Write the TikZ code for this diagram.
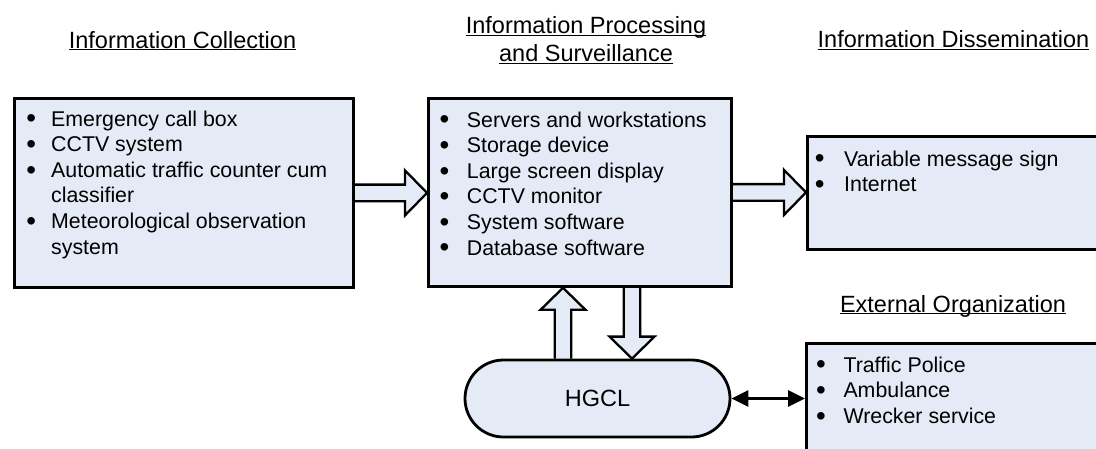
\documentclass[tikz,border=0pt]{standalone}
\usepackage{fontspec}
\usepackage{graphicx}
\setmainfont{Liberation Sans}
\usetikzlibrary{calc,arrows.meta,shapes.misc,backgrounds}
\definecolor{boxfill}{RGB}{228,234,246}
\newlength\bw
\newcommand\B{\makebox[\bw][l]{\raisebox{-1.8pt}{\scalebox{1.3}{\textbullet}}}}
\newcommand\blockarrow[3]{%
  \coordinate (#3) at ($(#2)!22pt!(#1)$);
  \filldraw[barrow] ($(#1)!8.3pt!90:(#2)$) -- ($(#3)!8.3pt!90:(#2)$) -- ($(#3)!22.5pt!90:(#2)$) -- (#2) -- ($(#3)!22.5pt!-90:(#2)$) -- ($(#3)!8.3pt!-90:(#2)$) -- ($(#1)!8.3pt!-90:(#2)$);
}
\tikzset{
  box/.style={draw, line width=2.8pt, fill=boxfill, inner sep=0pt, anchor=north west},
  barrow/.style={draw=black, line width=2.3pt, fill=boxfill, line join=miter},
  title/.style={inner sep=0pt, anchor=base, font=\fontsize{23.5}{28.3}\selectfont},
  list/.style={inner sep=0pt, anchor=base west, font=\fontsize{21.35}{25.6}\selectfont},
  hgcl/.style={draw, line width=2.8pt, fill=boxfill, rounded rectangle, minimum width=265pt, minimum height=77pt, inner sep=0pt, font=\fontsize{23.5}{28}\selectfont},
  link/.style={line width=3pt, {Triangle[length=17pt,width=16pt]}-{Triangle[length=17pt,width=16pt]}}
}
\begin{document}
\begin{tikzpicture}[x=1pt,y=-1pt]
\useasboundingbox (0,0) rectangle (1096,448);
\clip (0,0) rectangle (1096,448);
% titles
\node[title] (tC) at (182.5,48) {\underbar{Information Collection}};
\node[title] (tP) at (586,33.3) {\begin{tabular}[t]{@{}c@{}}\underbar{Information Processing}\\\underbar{and Surveillance}\end{tabular}};
\node[title] (tD) at (953.5,47.5) {\underbar{Information Dissemination}};
\node[title] (tE) at (953,312) {\underbar{External Organization}};
% boxes
\node[box, minimum width=339pt, minimum height=189pt] (L) at (13,97) {};
\node[box, minimum width=303pt, minimum height=188pt] (M) at (427,97) {};
\node[box, minimum width=330pt, minimum height=113pt] (D) at (806,135) {};
\node[box, minimum width=330pt, minimum height=160pt] (E) at (805,342) {};
\node[hgcl] (H) at (597.5,398.5) {HGCL};
% lists
\node[list] (lC) at (26.3,126) {\setlength\bw{24.7pt}\begin{tabular}[t]{@{}l@{}l@{}}\B&Emergency call box\\ \B&CCTV system\\ \B&Automatic traffic counter cum\\ &classifier\\ \B&Meteorological observation\\ &system\end{tabular}};
\node[list] (lP) at (439.3,127) {\setlength\bw{27.4pt}\begin{tabular}[t]{@{}l@{}l@{}}\B&Servers and workstations\\ \B&Storage device\\ \B&Large screen display\\ \B&CCTV monitor\\ \B&System software\\ \B&Database software\end{tabular}};
\node[list] (lD) at (814.6,166) {\setlength\bw{29.4pt}\begin{tabular}[t]{@{}l@{}l@{}}\B&Variable message sign\\ \B&Internet\end{tabular}};
\node[list] (lE) at (816,372) {\setlength\bw{27.3pt}\begin{tabular}[t]{@{}l@{}l@{}}\B&Traffic Police\\ \B&Ambulance\\ \B&Wrecker service\end{tabular}};
% block arrows
\coordinate (xu) at (563,0);
\coordinate (xd) at (632,0);
\begin{scope}[on background layer]
\blockarrow{L.east}{M.west |- L.east}{hb1}
\blockarrow{M.east}{D.west |- M.east}{hb2}
\blockarrow{H.north -| xu}{M.south -| xu}{hb3}
\blockarrow{M.south -| xd}{H.north -| xd}{hb4}
\end{scope}
\draw[link] (H.east) -- (E.west |- H.east);
\end{tikzpicture}
\end{document}
